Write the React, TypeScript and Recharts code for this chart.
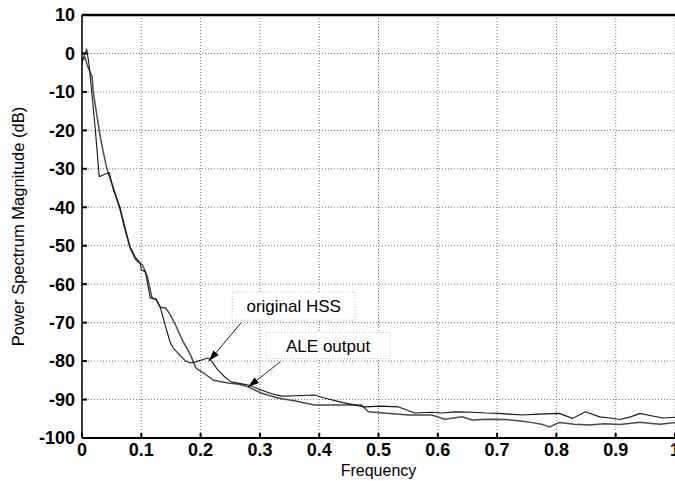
import React from "react"
import {
	LineChart,
	Line,
	XAxis,
	YAxis,
	CartesianGrid,
	ReferenceLine,
	ReferenceDot,
} from "recharts"

// x ticks and y ticks
const freqTicks = [0, 0.1, 0.2, 0.3, 0.4, 0.5, 0.6, 0.7, 0.8, 0.9, 1]
const dbTicks = [10, 0, -10, -20, -30, -40, -50, -60, -70, -80, -90, -100]

// first trace (sharp peak near 0)
const freqA = [
	0, 0.004, 0.008, 0.012, 0.017, 0.022, 0.029, 0.033, 0.038, 0.046, 0.053,
	0.064, 0.072, 0.081, 0.09, 0.098, 0.1, 0.107, 0.115, 0.125, 0.132, 0.14,
	0.149, 0.154, 0.165, 0.175, 0.183, 0.192, 0.2, 0.212, 0.217, 0.229, 0.24,
	0.251, 0.265, 0.28, 0.302, 0.32, 0.336, 0.36, 0.392, 0.409, 0.44, 0.476,
	0.505, 0.533, 0.561, 0.59, 0.607, 0.63, 0.658, 0.68, 0.703, 0.72, 0.742,
	0.77, 0.805, 0.827, 0.849, 0.873, 0.89, 0.907, 0.925, 0.941, 0.96, 0.98, 1.0,
]
const magA = [
	-2.5, -0.5, 1, -3, -11, -19, -32, -31.8, -31.4, -31, -35.5,
	-40, -45, -50.3, -53, -54.5, -56.3, -56.8, -63.6, -63.9, -66, -70.5,
	-75.3, -76.6, -78.5, -80, -80.5, -80.2, -79.8, -79.2, -79.7, -82.3, -84,
	-85.4, -85.8, -86.2, -87.5, -88.5, -89.1, -89, -88.8, -89.6, -90.8, -91.9,
	-91.7, -91.9, -93.5, -93.3, -93.5, -93.2, -93.3, -93.5, -93.6, -93.8, -94,
	-93.8, -93.6, -94.9, -93.2, -94.5, -94.8, -95.2, -94.5, -93.6, -94.2, -94.8, -94.6,
]

// second trace
const freqB = [
	0, 0.005, 0.01, 0.017, 0.019, 0.024, 0.029, 0.035, 0.042, 0.046, 0.053,
	0.058, 0.064, 0.072, 0.081, 0.09, 0.095, 0.102, 0.11, 0.118, 0.125, 0.132,
	0.141, 0.149, 0.159, 0.169, 0.183, 0.192, 0.205, 0.222, 0.235, 0.246, 0.265,
	0.28, 0.302, 0.33, 0.36, 0.392, 0.43, 0.471, 0.483, 0.52, 0.551, 0.59,
	0.612, 0.641, 0.658, 0.685, 0.714, 0.74, 0.759, 0.775, 0.788, 0.805, 0.83,
	0.856, 0.88, 0.907, 0.941, 0.96, 0.975, 1.0,
]
const magB = [
	-1.7, -1, -3.5, -6, -10, -15, -20, -25, -30, -32, -35,
	-37.5, -40.5, -45.5, -50.5, -53.5, -54.2, -55, -58, -63.5, -64, -66,
	-66.2, -68, -71, -74.5, -78.4, -81.8, -83.1, -85, -85.4, -85.7, -86,
	-86.7, -88.3, -89.6, -90.4, -91.4, -91.4, -91.4, -93.2, -93.6, -94, -94,
	-95.1, -94.5, -95.3, -95.1, -95.2, -95.6, -96, -96.4, -97.1, -96, -96.4,
	-96.6, -96.3, -96.5, -95.9, -96.2, -96.4, -96,
]

// annotation labels and their arrows (in data units)
const labelText = ["original HSS", "ALE output"]
const labelPos = [
	{ f: 0.357, v: -65.7 },
	{ f: 0.415, v: -75.95 },
]
const arrowFrom = [
	{ f: 0.268, v: -70.1 },
	{ f: 0.334, v: -80.25 },
]
const arrowTo = [
	{ f: 0.214, v: -80.0 },
	{ f: 0.28, v: -86.75 },
]

const seriesA = freqA.map((f, i) => ({ f, v: magA[i] }))
const seriesB = freqB.map((f, i) => ({ f, v: magB[i] }))

const tickFont = {
	fontFamily: "'Liberation Sans Narrow', 'Liberation Sans', Arial, sans-serif",
	fontSize: 18,
	fontWeight: 700,
	fill: "#000",
}
const labelFont = "'Liberation Sans', Arial, sans-serif"

const Arrow = (props: any) => {
	const { x1, y1, x2, y2 } = props
	const dx = x2 - x1
	const dy = y2 - y1
	const len = Math.sqrt(dx * dx + dy * dy)
	const ux = dx / len
	const uy = dy / len
	const hl = 11
	const hw = 3.5
	const bx = x2 - ux * hl
	const by = y2 - uy * hl
	const pts = `${x2},${y2} ${bx - uy * hw},${by + ux * hw} ${bx + uy * hw},${by - ux * hw}`
	return (
		<g>
			<line x1={x1} y1={y1} x2={x2} y2={y2} stroke="#222" strokeWidth={1} />
			<polygon points={pts} fill="#000" />
		</g>
	)
}

const makeBox = (text: string, w: number, h: number) => (props: any) => {
	const { cx, cy } = props
	return (
		<g>
			<rect
				x={cx - w / 2}
				y={cy - h / 2}
				width={w}
				height={h}
				fill="#fff"
				stroke="#bbb"
				strokeWidth={1}
				strokeDasharray="1 2"
			/>
			<text
				x={cx}
				y={cy + 6}
				textAnchor="middle"
				fontFamily={labelFont}
				fontSize={17}
				fill="#000"
			>
				{text}
			</text>
		</g>
	)
}

const boxSizes = [
	{ w: 123, h: 28 },
	{ w: 124, h: 26 },
]

export default function App() {
	return (
		<div
			style={{
				position: "absolute",
				left: 0,
				top: 0,
				width: 675,
				height: 481,
				overflow: "hidden",
				background: "#fff",
			}}
		>
			<LineChart
				width={676}
				height={481}
				margin={{ top: 14, right: 0, bottom: 0, left: 0 }}
			>
				<CartesianGrid stroke="#777" strokeDasharray="1 2" />
				<XAxis
					type="number"
					dataKey="f"
					domain={[0, 1]}
					ticks={freqTicks}
					interval={0}
					height={43}
					tickSize={-5}
					tickMargin={10}
					tick={tickFont}
					tickLine={{ stroke: "#000", strokeWidth: 2 }}
					axisLine={{ stroke: "#000", strokeWidth: 2 }}
					allowDataOverflow
					label={{
						value: "Frequency",
						position: "insideBottom",
						offset: 5,
						style: { fontFamily: labelFont, fontSize: 16, fill: "#000" },
					}}
				/>
				<XAxis
					xAxisId="top"
					orientation="top"
					type="number"
					domain={[0, 1]}
					ticks={freqTicks}
					interval={0}
					height={1}
					tickSize={-5}
					tick={false}
					tickLine={{ stroke: "#000", strokeWidth: 2 }}
					axisLine={{ stroke: "#000", strokeWidth: 2.5 }}
				/>
				<YAxis
					type="number"
					domain={[-100, 10]}
					ticks={dbTicks}
					interval={0}
					width={82}
					tickSize={-5}
					tickMargin={12}
					tick={tickFont}
					tickLine={{ stroke: "#000", strokeWidth: 2 }}
					axisLine={{ stroke: "#000", strokeWidth: 1.5 }}
					allowDataOverflow
					label={{
						value: "Power Spectrum Magnitude (dB)",
						angle: -90,
						position: "insideLeft",
						offset: 18,
						style: {
							fontFamily: labelFont,
							fontSize: 16.5,
							fill: "#000",
							textAnchor: "middle",
						},
					}}
				/>
				<YAxis
					yAxisId="right"
					orientation="right"
					type="number"
					domain={[-100, 10]}
					ticks={dbTicks}
					interval={0}
					width={1}
					tickSize={-5}
					tick={false}
					tickLine={{ stroke: "#000", strokeWidth: 2 }}
					axisLine={false}
				/>
				<Line
					data={seriesB}
					dataKey="v"
					type="linear"
					stroke="#4a4a4a"
					strokeWidth={1.5}
					dot={false}
					isAnimationActive={false}
				/>
				<Line
					data={seriesA}
					dataKey="v"
					type="linear"
					stroke="#151515"
					strokeWidth={1.1}
					dot={false}
					isAnimationActive={false}
				/>
				{labelText.map((t, i) => (
					<ReferenceLine
						key={"arrow" + i}
						segment={[
							{ x: arrowFrom[i].f, y: arrowFrom[i].v },
							{ x: arrowTo[i].f, y: arrowTo[i].v },
						]}
						shape={Arrow}
					/>
				))}
				{labelText.map((t, i) => (
					<ReferenceDot
						key={"box" + i}
						x={labelPos[i].f}
						y={labelPos[i].v}
						r={1}
						shape={makeBox(t, boxSizes[i].w, boxSizes[i].h)}
					/>
				))}
			</LineChart>
		</div>
	)
}
